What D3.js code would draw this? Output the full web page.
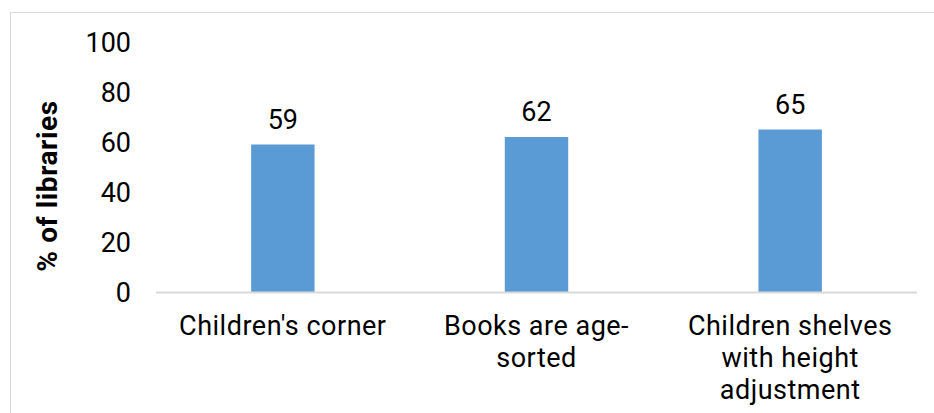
<!DOCTYPE html>
<html>
<head>
<meta charset="utf-8">
<script src="https://cdn.jsdelivr.net/npm/d3@7"></script>
<style>
  body { margin: 0; background: #fff; }
  svg { display: block; font-family: Roboto, "Open Sans", sans-serif; }
</style>
</head>
<body>
<div id="chart"></div>
<script>
const categories = ["Children's corner", "Books are age-sorted", "Children shelves with height adjustment"];
const labelLines = [["Children's corner"], ["Books are age-", "sorted"], ["Children shelves", "with height", "adjustment"]];
const values = [59, 62, 65];
const yTicks = [0, 20, 40, 60, 80, 100];
const yTitle = "% of libraries";

const width = 934, height = 413;
const margin = { left: 156, right: 17, top: 42, bottom: 121 };
const fontSize = 27;
const lineGap = 31.8;

const svg = d3.select("#chart").append("svg")
    .attr("width", width)
    .attr("height", height);

// chart border
svg.append("rect")
    .attr("x", 10.5).attr("y", 12.5)
    .attr("width", 1000).attr("height", 1000)
    .attr("fill", "none")
    .attr("stroke", "#d9d9d9");

const x = d3.scaleBand()
    .domain(categories)
    .range([margin.left, width - margin.right])
    .paddingInner(0.75)
    .paddingOuter(0.375);

const y = d3.scaleLinear()
    .domain([0, 100])
    .range([height - margin.bottom, margin.top]);

// y tick labels
svg.selectAll(".ytick")
    .data(yTicks)
  .enter().append("text")
    .attr("class", "ytick")
    .attr("x", 131)
    .attr("y", d => y(d))
    .attr("dy", "0.36em")
    .attr("text-anchor", "end")
    .attr("font-size", fontSize)
    .attr("fill", "#000")
    .text(d => d);

// bars
svg.selectAll(".bar")
    .data(values)
  .enter().append("rect")
    .attr("class", "bar")
    .attr("x", (d, i) => x(categories[i]))
    .attr("y", d => y(d))
    .attr("width", x.bandwidth())
    .attr("height", d => y(0) - y(d))
    .attr("fill", "#5b9bd5");

// x axis line
svg.append("line")
    .attr("x1", margin.left).attr("x2", width - margin.right)
    .attr("y1", y(0) + 0.5).attr("y2", y(0) + 0.5)
    .attr("stroke", "#d9d9d9")
    .attr("stroke-width", 2);

// value labels
svg.selectAll(".vlabel")
    .data(values)
  .enter().append("text")
    .attr("class", "vlabel")
    .attr("x", (d, i) => x(categories[i]) + x.bandwidth() / 2)
    .attr("y", d => y(d) - 16)
    .attr("text-anchor", "middle")
    .attr("font-size", fontSize)
    .attr("fill", "#000")
    .text(d => d);

// category labels
const xl = svg.selectAll(".xlabel")
    .data(categories)
  .enter().append("text")
    .attr("class", "xlabel")
    .attr("text-anchor", "middle")
    .attr("font-size", fontSize)
    .attr("letter-spacing", 0.5)
    .attr("fill", "#000");

xl.each(function(d, i) {
  d3.select(this).selectAll("tspan")
      .data(labelLines[i])
    .enter().append("tspan")
      .attr("x", x(d) + x.bandwidth() / 2)
      .attr("y", (t, j) => 335 + j * lineGap)
      .text(t => t);
});

// y axis title
svg.append("text")
    .attr("transform", "translate(57," + y(42.4) + ") rotate(-90)")
    .attr("text-anchor", "middle")
    .attr("font-size", 28)
    .attr("letter-spacing", 0.6)
    .attr("font-weight", "bold")
    .attr("fill", "#000")
    .text(yTitle);
</script>
</body>
</html>
